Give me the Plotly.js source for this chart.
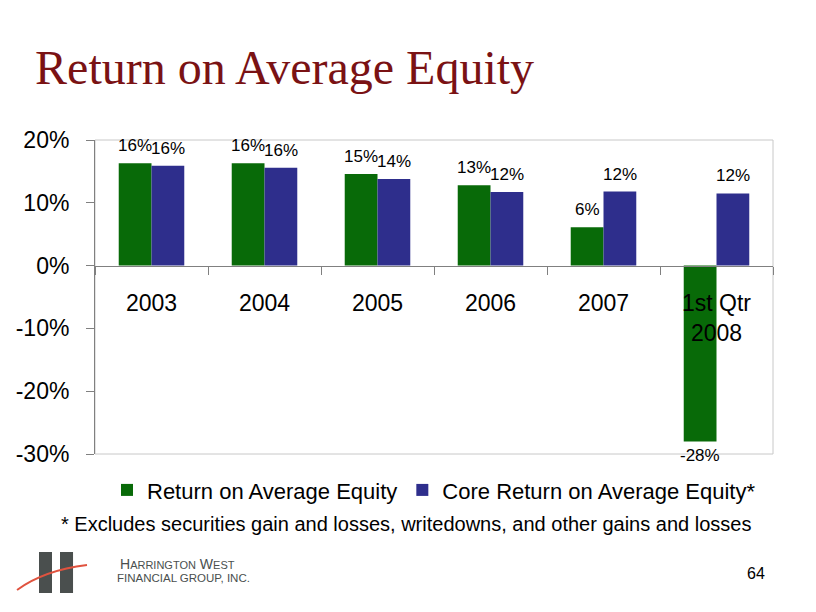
<!DOCTYPE html>
<html>
<head>
<meta charset="utf-8">
<script src="https://cdn.plot.ly/plotly-3.0.1.min.js"></script>
<style>
    body { margin: 0; background: #ffffff; }
    #chart { width: 816px; height: 612px; }
</style>
</head>
<body>
<div id="chart"></div>
<script>
// Chart data (percent)
const categories = ['2003', '2004', '2005', '2006', '2007', '1st Qtr<br>2008'];
const roeValues = [16.3, 16.3, 14.6, 12.8, 6.1, -28.0];
const coreRoeValues = [15.9, 15.6, 13.8, 11.7, 11.8, 11.5];
const seriesNames = ['Return on Average Equity', 'Core Return on Average Equity*'];
const seriesColors = ['#086A08', '#2E2E8C'];
const yTickValues = [-30, -20, -10, 0, 10, 20];

const allSeries = [roeValues, coreRoeValues];

const traces = allSeries.map((values, i) => ({
    x: categories,
    y: values,
    name: seriesNames[i],
    type: 'bar',
    marker: { color: seriesColors[i], line: { width: 0 } },
    hoverinfo: 'skip'
}));

// Value labels above / below each bar, shifted over its bar in the group.
// x is the category index (year strings would be read as numbers).
const valueLabels = [];
allSeries.forEach((values, i) => {
    values.forEach((v, j) => {
        valueLabels.push({
            x: j,
            y: v,
            xref: 'x',
            yref: 'y',
            text: Math.round(v) + '%',
            showarrow: false,
            xshift: i === 0 ? -16.5 : 16.5,
            yshift: v >= 0 ? 6 : -3,
            yanchor: v >= 0 ? 'bottom' : 'top',
            font: { size: 17, color: '#000000' }
        });
    });
});

const layout = {
    width: 816,
    height: 612,
    margin: { l: 95, r: 43, t: 140, b: 158 },
    paper_bgcolor: '#ffffff',
    plot_bgcolor: '#ffffff',
    font: { family: 'Liberation Sans, Arial, sans-serif', color: '#000000' },
    title: {
        text: 'Return on Average Equity',
        font: { family: 'Liberation Serif, Times New Roman, serif', size: 48, color: '#7A1214' },
        xref: 'container',
        yref: 'container',
        x: 0.043,
        xanchor: 'left',
        y: 0.89,
        yanchor: 'middle'
    },
    barmode: 'group',
    bargap: 0.42,
    bargroupgap: 0,
    showlegend: true,
    xaxis: {
        type: 'category',
        categoryorder: 'array',
        categoryarray: categories,
        range: [-0.5, categories.length - 0.5],
        anchor: 'free',
        position: 0.6,
        showline: true,
        linecolor: '#808080',
        linewidth: 1,
        ticks: 'outside',
        tickson: 'boundaries',
        ticklen: 8,
        tickcolor: '#808080',
        tickangle: 0,
        ticklabelstandoff: 17,
        tickfont: { size: 23, color: '#000000' },
        showgrid: false,
        zeroline: false,
        fixedrange: true
    },
    yaxis: {
        range: [-30, 20],
        tickvals: yTickValues,
        ticktext: yTickValues.map(v => v + '%'),
        showline: true,
        linecolor: '#808080',
        linewidth: 1,
        ticks: 'outside',
        ticklen: 8,
        tickcolor: '#808080',
        ticklabelstandoff: 12,
        tickfont: { size: 23, color: '#000000' },
        showgrid: false,
        zeroline: false,
        fixedrange: true
    },
    legend: {
        orientation: 'h',
        x: 0.5,
        xanchor: 'center',
        y: -0.115,
        yanchor: 'middle',
        font: { size: 22, color: '#000000' },
        itemwidth: 30,
        bgcolor: 'rgba(0,0,0,0)'
    },
    shapes: [
        // light plot frame
        { type: 'rect', xref: 'paper', yref: 'paper', x0: 0, x1: 1, y0: 0, y1: 1,
          line: { color: '#C8C8C8', width: 1 }, layer: 'below' },
        // logo bars
        { type: 'rect', xref: 'paper', yref: 'paper', x0: -0.0826, x1: -0.0634, y0: -0.4427, y1: -0.3121,
          fillcolor: '#4A4F4E', line: { width: 0 } },
        { type: 'rect', xref: 'paper', yref: 'paper', x0: -0.0516, x1: -0.0324, y0: -0.4427, y1: -0.3121,
          fillcolor: '#4A4F4E', line: { width: 0 } },
        // logo swoosh
        { type: 'path', xref: 'paper', yref: 'paper',
          path: 'M -0.115,-0.433 Q -0.075,-0.37 -0.0118,-0.3535',
          line: { color: '#E0533F', width: 2 } }
    ],
    annotations: valueLabels.concat([
        {
            text: '* Excludes securities gain and losses, writedowns, and other gains and losses',
            xref: 'paper', yref: 'paper', x: 0.459, y: -0.223,
            xanchor: 'center', yanchor: 'middle', showarrow: false,
            font: { size: 20, color: '#000000' }
        },
        {
            text: 'H<span style="font-size:11px">ARRINGTON</span> W<span style="font-size:11px">EST</span>',
            xref: 'paper', yref: 'paper', x: 0.034, y: -0.35,
            xanchor: 'left', yanchor: 'middle', showarrow: false,
            font: { size: 14, color: '#4A4F4E' }
        },
        {
            text: 'FINANCIAL GROUP, INC.',
            xref: 'paper', yref: 'paper', x: 0.0295, y: -0.395,
            xanchor: 'left', yanchor: 'middle', showarrow: false,
            font: { size: 11.5, color: '#4A4F4E' }
        },
        {
            text: '64',
            xref: 'paper', yref: 'paper', x: 0.991, y: -0.379,
            xanchor: 'right', yanchor: 'middle', showarrow: false,
            font: { size: 16, color: '#000000' }
        }
    ])
};

Plotly.newPlot('chart', traces, layout, { displayModeBar: false, staticPlot: true });
</script>
</body>
</html>
